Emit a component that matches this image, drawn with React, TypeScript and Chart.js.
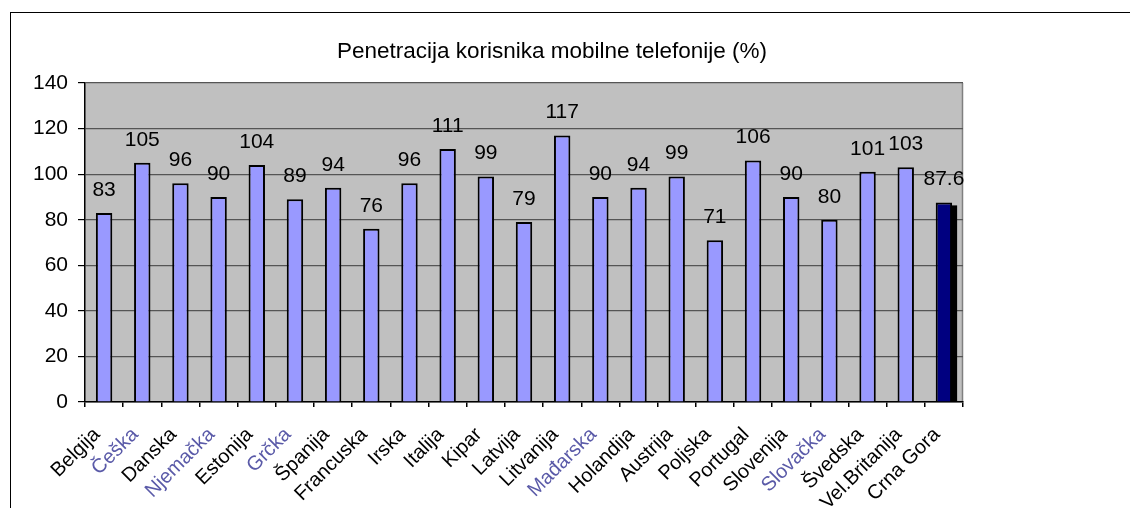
import React, { useEffect, useRef } from "react";
import { Chart, registerables } from "chart.js";

Chart.register(...registerables);

const CHART_TITLE = "Penetracija korisnika mobilne telefonije (%)";
const COUNTRIES = [
  "Belgija", "Češka", "Danska", "Njemačka", "Estonija", "Grčka", "Španija", "Francuska",
  "Irska", "Italija", "Kipar", "Latvija", "Litvanija", "Mađarska", "Holandija", "Austrija",
  "Poljska", "Portugal", "Slovenija", "Slovačka", "Švedska", "Vel.Britanija", "Crna Gora",
];
const PENETRATION = [83, 105, 96, 90, 104, 89, 94, 76, 96, 111, 99, 79, 117, 90, 94, 99, 71, 106, 90, 80, 101, 103, 87.6];
const HIGHLIGHTED = ["Crna Gora"];
const TINTED_LABELS = ["Češka", "Njemačka", "Grčka", "Mađarska", "Slovačka"];
const Y_MIN = 0;
const Y_MAX = 140;
const Y_STEP = 20;

const FONT = "'Liberation Sans', Arial, sans-serif";
const W = 1130;
const H = 508;
const PLOT_LEFT = 85;
const PLOT_RIGHT = 963;
const PLOT_TOP = 83;
const PLOT_BOTTOM = 402;
const TITLE_X = 552;
const TITLE_Y = 52;

export default function App() {
  const ref = useRef<HTMLCanvasElement | null>(null);

  useEffect(() => {
    if (!ref.current) return;
    const plotBg = {
      id: "plotBg",
      beforeDraw(chart: any) {
        const { ctx, chartArea: a } = chart;
        ctx.save();
        ctx.fillStyle = "#c0c0c0";
        ctx.fillRect(a.left, a.top, a.right - a.left, a.bottom - a.top);
        ctx.strokeStyle = "#808080";
        ctx.lineWidth = 1.5;
        ctx.beginPath();
        ctx.moveTo(Math.round(a.right) - 0.5, a.top);
        ctx.lineTo(Math.round(a.right) - 0.5, a.bottom);
        ctx.stroke();
        ctx.restore();
      },
      beforeDatasetsDraw(chart: any) {
        const { ctx } = chart;
        const meta = chart.getDatasetMeta(0);
        ctx.save();
        ctx.fillStyle = "#000000";
        meta.data.forEach((bar: any, i: number) => {
          if (!HIGHLIGHTED.includes(COUNTRIES[i])) return;
          const p = bar.getProps(["x", "y", "base", "width"], true);
          ctx.fillRect(p.x - p.width / 2 + 5, p.y + 3, p.width, p.base - p.y - 3);
        });
        ctx.restore();
      },
      afterDatasetsDraw(chart: any) {
        const { ctx } = chart;
        const meta = chart.getDatasetMeta(0);
        ctx.save();
        ctx.fillStyle = "#000000";
        ctx.font = `21px ${FONT}`;
        ctx.textAlign = "center";
        ctx.textBaseline = "alphabetic";
        meta.data.forEach((bar: any, i: number) => {
          const p = bar.getProps(["x", "y"], true);
          ctx.fillText(String(PENETRATION[i]), p.x, p.y - 17);
        });
        ctx.restore();
      },
      afterDraw(chart: any) {
        const { ctx } = chart;
        ctx.save();
        ctx.fillStyle = "#000000";
        ctx.font = `22.5px ${FONT}`;
        ctx.textAlign = "center";
        ctx.textBaseline = "middle";
        ctx.fillText(CHART_TITLE, TITLE_X, TITLE_Y);
        ctx.restore();
      },
    };

    const chart = new Chart(ref.current, {
      type: "bar",
      data: {
        labels: COUNTRIES,
        datasets: [
          {
            data: PENETRATION,
            backgroundColor: COUNTRIES.map((c) => (HIGHLIGHTED.includes(c) ? "#000080" : "#9999ff")),
            borderColor: "#000000",
            borderWidth: 2,
            categoryPercentage: 1,
            barPercentage: 0.43,
          },
        ],
      },
      options: {
        animation: false,
        responsive: false,
        maintainAspectRatio: false,
        layout: { padding: { left: 0, right: W - PLOT_RIGHT, top: PLOT_TOP, bottom: 0 } },
        plugins: { legend: { display: false }, tooltip: { enabled: false }, title: { display: false } },
        scales: {
          x: {
            offset: true,
            grid: { offset: true, drawOnChartArea: false, drawTicks: true, tickLength: 5, tickColor: "#000000", lineWidth: 1.5 },
            border: { display: true, color: "#000000", width: 1.5 },
            ticks: {
              autoSkip: false,
              maxRotation: 45,
              minRotation: 45,
              padding: 16,
              labelOffset: -7,
              font: { family: FONT, size: 20 },
              color: (c: any) => (TINTED_LABELS.includes(COUNTRIES[c.index]) ? "#5a5aa8" : "#000000"),
            },
            afterFit(scale: any) {
              scale.height = H - PLOT_BOTTOM;
            },
          },
          y: {
            min: Y_MIN,
            max: Y_MAX,
            grid: { color: "#555555", tickColor: "#000000", tickLength: 7, lineWidth: 1.2 },
            border: { display: true, color: "#000000", width: 1.5 },
            ticks: { stepSize: Y_STEP, padding: 10, color: "#000000", font: { family: FONT, size: 21 } },
            afterFit(scale: any) {
              scale.width = PLOT_LEFT;
            },
          },
        },
      },
      plugins: [plotBg],
    });
    return () => chart.destroy();
  }, []);

  return (
    <div style={{ position: "fixed", left: 0, top: 0, width: W, height: H, overflow: "hidden", background: "#fff" }}>
      <div
        style={{
          position: "absolute",
          left: 10,
          top: 12,
          width: 1300,
          height: 700,
          border: "1px solid #000",
        }}
      />
      <canvas ref={ref} width={W} height={H} style={{ position: "absolute", left: 0, top: 0, width: W, height: H }} />
    </div>
  );
}
